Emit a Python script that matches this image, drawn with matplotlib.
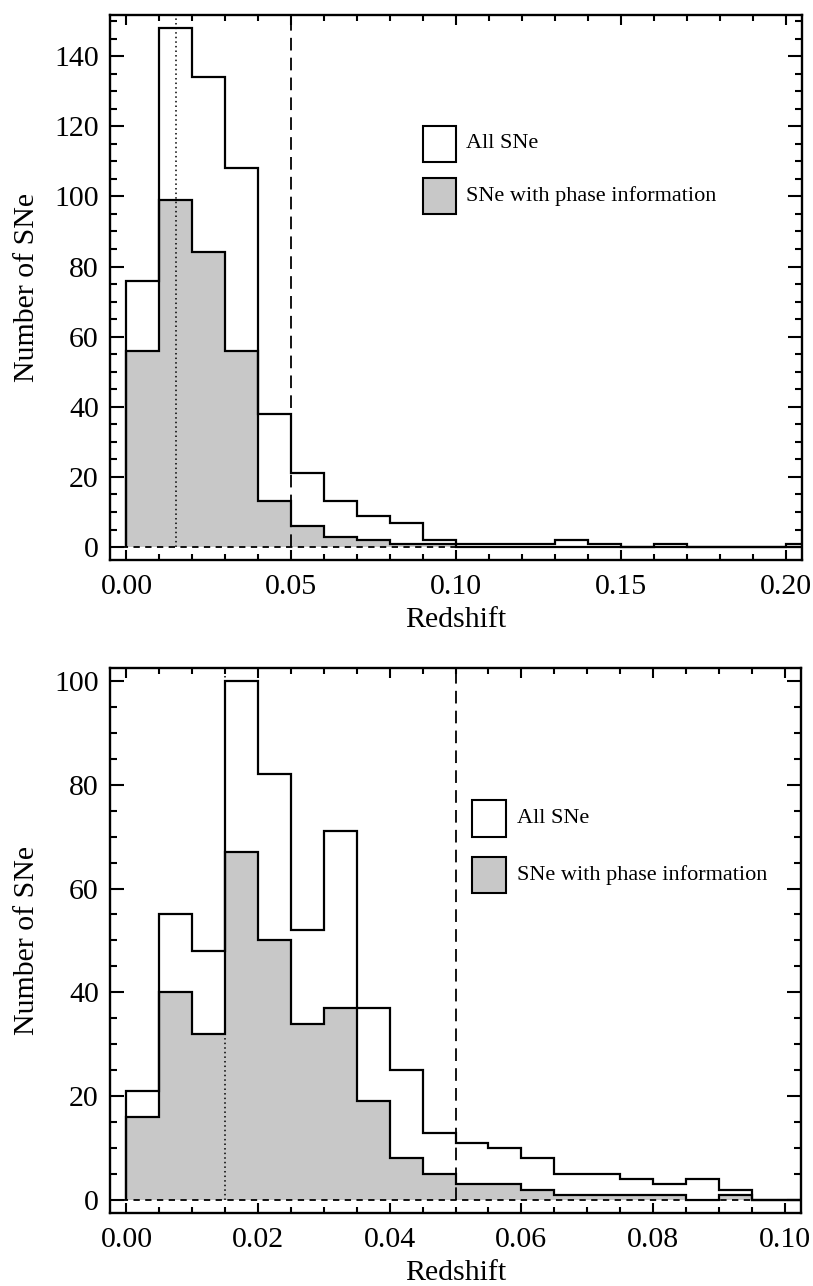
import numpy as np
import matplotlib
matplotlib.use("Agg")
import matplotlib.pyplot as plt
from matplotlib.patches import Rectangle
from matplotlib.ticker import MultipleLocator, FormatStrFormatter

# --- données ---
# panneau du haut : bins de 0.01 entre 0 et 0.21
top_edges = np.round(np.arange(0.0, 0.2101, 0.01), 3)
top_all = [76, 148, 134, 108, 38, 21, 13, 9, 7, 2, 1, 1, 1, 2, 1, 0, 1, 0, 0, 0, 1]
top_phase = [56, 99, 84, 56, 13, 6, 3, 2, 1, 1, 0, 0, 0, 0, 0, 0, 0, 0, 0, 0, 0]

# panneau du bas : bins de 0.005 entre 0 et 0.105
bot_edges = np.round(np.arange(0.0, 0.1051, 0.005), 4)
bot_all = [21, 55, 48, 100, 82, 52, 71, 37, 25, 13, 11, 10, 8, 5, 5, 4, 3, 4, 2, 0, 0]
bot_phase = [16, 40, 32, 67, 50, 34, 37, 19, 8, 5, 3, 3, 2, 1, 1, 1, 1, 0, 1, 0, 0]

z_dotted = 0.015
z_dashed = 0.05
legend_labels = ["All SNe", "SNe with phase information"]

plt.rcParams['font.family'] = ['Liberation Serif', 'DejaVu Serif']

GRIS = '#c8c8c8'
LW = 1.6

fig = plt.figure(figsize=(8.13, 12.86), dpi=100)
ax1 = fig.add_axes([0.1353, 0.5645, 0.8512, 0.4238])
ax2 = fig.add_axes([0.1353, 0.0568, 0.8500, 0.4238])


def panneau(ax, edges, h_all, h_phase, xmax, xmaj, xmin, leg):
    ymax = max(h_all)
    ax.stairs(h_phase, edges, fill=True, color=GRIS, baseline=0, lw=0, zorder=1)
    ax.stairs(h_all, edges, color='black', lw=LW, baseline=0, zorder=3)
    ax.stairs(h_phase, edges, color='black', lw=LW, baseline=0, zorder=3)

    top = 1.025 * ymax
    ax.plot([z_dotted, z_dotted], [0, top], color='black', lw=1.1,
            linestyle=(0, (1, 2)), zorder=2)
    ax.plot([z_dashed, z_dashed], [0, top], color='black', lw=1.3,
            linestyle=(0, (7, 4)), zorder=2)
    ax.axhline(0, color='black', lw=1.3, linestyle=(0, (3.5, 3)), zorder=2)

    ax.set_xlim(-0.025 * xmax, 1.025 * xmax)
    ax.set_ylim(-0.025 * ymax, top)

    ax.xaxis.set_major_locator(MultipleLocator(xmaj))
    ax.xaxis.set_minor_locator(MultipleLocator(xmin))
    ax.yaxis.set_major_locator(MultipleLocator(20))
    ax.yaxis.set_minor_locator(MultipleLocator(5))
    ax.xaxis.set_major_formatter(FormatStrFormatter('%.2f'))
    ax.yaxis.set_major_formatter(FormatStrFormatter('%d'))

    ax.tick_params(which='both', direction='in', top=True, right=True,
                   width=1.5, labelsize=21.5)
    ax.tick_params(axis='x', which='major', length=7, pad=10)
    ax.tick_params(axis='x', which='minor', length=4)
    ax.tick_params(axis='y', which='major', length=10, pad=8)
    ax.tick_params(axis='y', which='minor', length=5)
    for s in ax.spines.values():
        s.set_linewidth(1.7)

    ax.set_xlabel("Redshift", fontsize=21.5, labelpad=5)
    ax.set_ylabel("Number of SNe", fontsize=21.5, labelpad=10)

    # légende dessinée à la main (style IDL)
    bx, bw, by1, by2, bh, tx = leg
    ax.add_patch(Rectangle((bx, by1), bw, bh, transform=ax.transAxes,
                           facecolor='white', edgecolor='black', lw=1.5, zorder=5))
    ax.add_patch(Rectangle((bx, by2), bw, bh, transform=ax.transAxes,
                           facecolor=GRIS, edgecolor='black', lw=1.5, zorder=5))
    ax.text(tx, by1 + bh / 2, legend_labels[0], transform=ax.transAxes,
            fontsize=16, va='center', ha='left')
    ax.text(tx, by2 + bh / 2, legend_labels[1], transform=ax.transAxes,
            fontsize=16, va='center', ha='left')


panneau(ax1, top_edges, top_all, top_phase, 0.2, 0.05, 0.01,
        (0.452, 0.048, 0.731, 0.635, 0.0655, 0.514))
panneau(ax2, bot_edges, bot_all, bot_phase, 0.1, 0.02, 0.005,
        (0.5235, 0.0497, 0.6905, 0.5866, 0.067, 0.5886))

fig.savefig("out.png", dpi=100)
